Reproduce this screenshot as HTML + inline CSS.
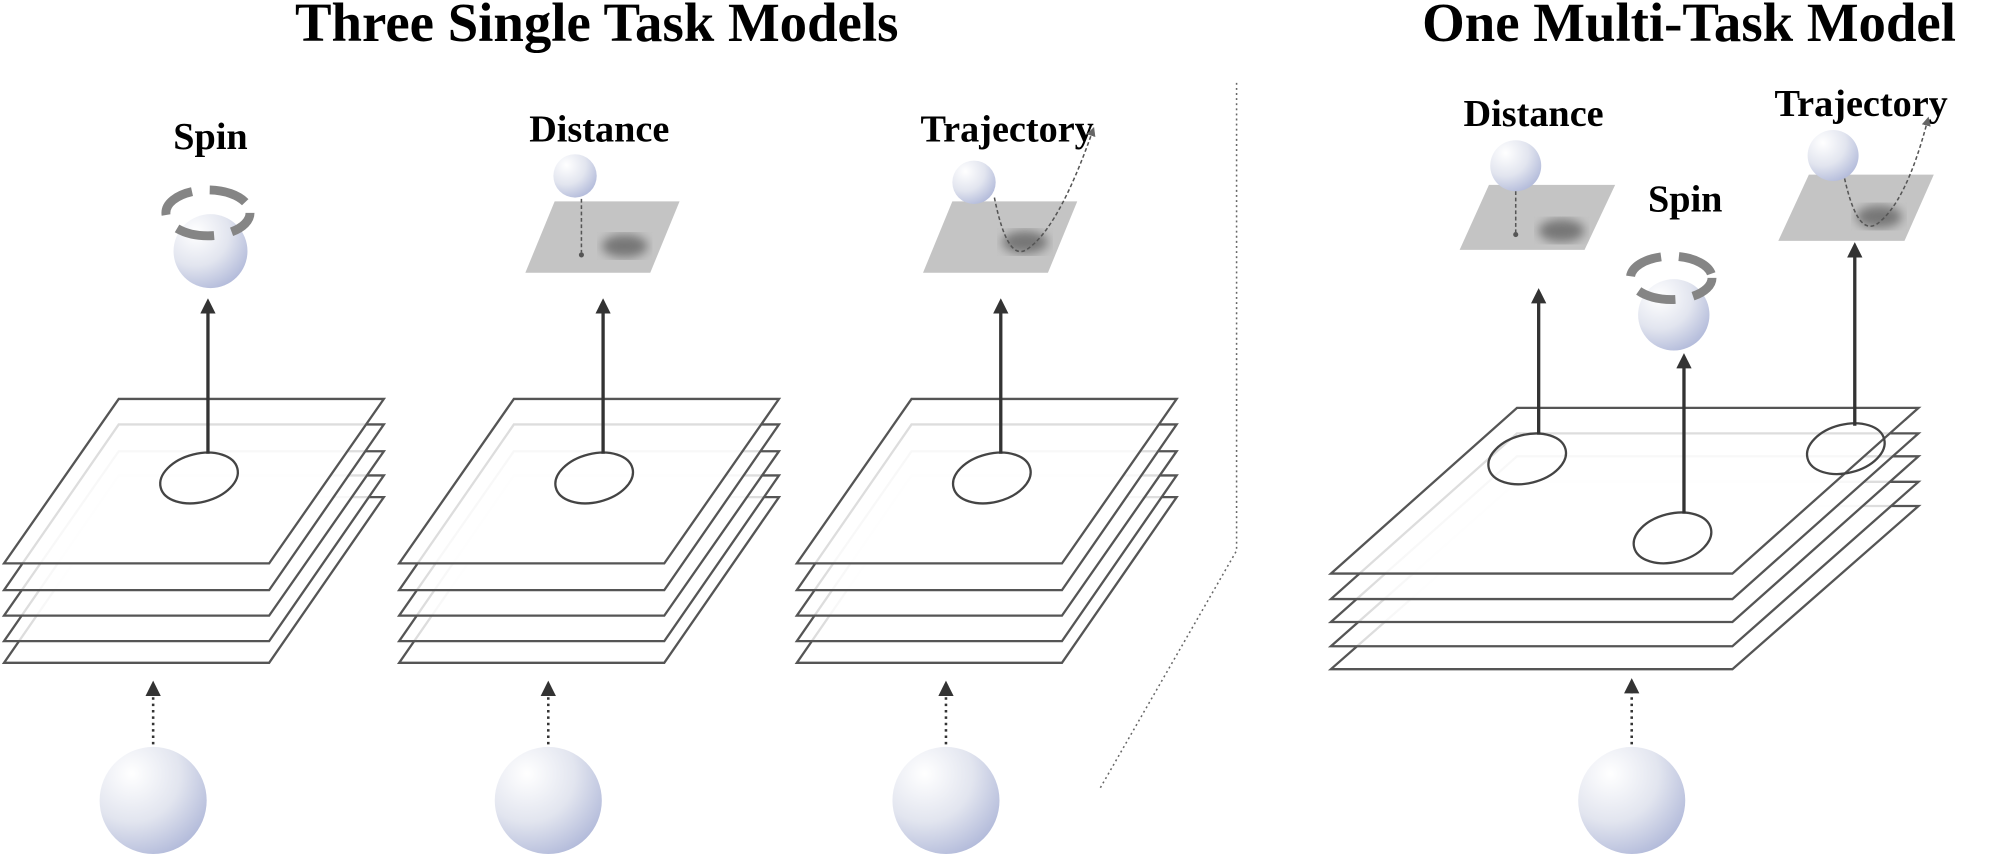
<!DOCTYPE html>
<html><head><meta charset="utf-8"><style>html,body{margin:0;padding:0;background:#fff}svg{display:block}</style></head>
<body>
<svg width="1999" height="854" viewBox="0 0 1568 670" xmlns="http://www.w3.org/2000/svg" font-family="Liberation Serif, serif">
<defs>
<radialGradient id="bg" cx="0.3" cy="0.25" r="0.9">
<stop offset="0" stop-color="#ffffff"/><stop offset="0.5" stop-color="#e2e5ef"/><stop offset="1" stop-color="#a9b2d6"/>
</radialGradient>
<filter id="bl"><feGaussianBlur stdDeviation="4"/></filter>
<marker id="ah" markerWidth="12" markerHeight="12" refX="6" refY="6" orient="auto" markerUnits="userSpaceOnUse" viewBox="0 0 12 12"><path d="M0,0 L12,6 L0,12z" fill="#333"/></marker>
<marker id="ahs" markerWidth="6" markerHeight="6" refX="3" refY="3" orient="auto" viewBox="0 0 6 6"><path d="M0,0 L6,3 L0,6z" fill="#666"/></marker>
<g id="stack">
<g fill="#fff" fill-opacity="0.8" stroke="#555" stroke-width="1.8">
<path d="M93,390 L301,390 L211,520 L3,520Z"/>
<path d="M93,373 L301,373 L211,503 L3,503Z"/>
<path d="M93,354 L301,354 L211,483 L3,483Z"/>
<path d="M93,333 L301,333 L211,463 L3,463Z"/>
<path d="M93,313 L301,313 L211,442 L3,442Z"/>
</g>
<ellipse cx="156" cy="375" rx="31" ry="19" transform="rotate(-14 156 375)" fill="none" stroke="#444" stroke-width="1.8"/>
<line x1="163" y1="356" x2="163" y2="240" stroke="#333" stroke-width="2.6" marker-end="url(#ah)"/>
<line x1="120" y1="584" x2="120" y2="540" stroke="#333" stroke-width="2" stroke-dasharray="2 3" marker-end="url(#ah)"/>
<circle cx="120" cy="628" r="42" fill="url(#bg)"/>
</g>
<g id="bigstack">
<g fill="#fff" fill-opacity="0.8" stroke="#555" stroke-width="1.8">
<path d="M1190,397 L1505,397 L1359,525 L1044,525Z"/>
<path d="M1190,378 L1505,378 L1359,507 L1044,507Z"/>
<path d="M1190,358 L1505,358 L1359,488 L1044,488Z"/>
<path d="M1190,340 L1505,340 L1359,470 L1044,470Z"/>
<path d="M1190,320 L1505,320 L1359,450 L1044,450Z"/>
</g>
</g>
</defs>

<text x="468" y="32" font-size="43" font-weight="bold" text-anchor="middle">Three Single Task Models</text>
<text x="1325" y="32" font-size="43" font-weight="bold" text-anchor="middle">One Multi-Task Model</text>

<use href="#stack"/>
<use href="#stack" x="310"/>
<use href="#stack" x="622"/>

<text x="165" y="117" font-size="30" font-weight="bold" text-anchor="middle">Spin</text>
<circle cx="165" cy="197" r="29" fill="url(#bg)"/>
<ellipse cx="163" cy="167" rx="33" ry="18" fill="none" stroke="#858585" stroke-width="7" stroke-dasharray="30 14" stroke-dashoffset="8"/>

<text x="470" y="111" font-size="30" font-weight="bold" text-anchor="middle">Distance</text>
<path d="M435,158 L533,158 L510,214 L412,214Z" fill="#c4c4c4"/>
<ellipse cx="490" cy="193" rx="18" ry="9" fill="#777" filter="url(#bl)"/>
<circle cx="451" cy="138" r="17" fill="url(#bg)"/>
<line x1="456" y1="156" x2="456" y2="198" stroke="#555" stroke-width="1.2" stroke-dasharray="3 2"/>
<circle cx="456" cy="200" r="2" fill="#555"/>

<text x="790" y="111" font-size="30" font-weight="bold" text-anchor="middle">Trajectory</text>
<path d="M747,158 L845,158 L822,214 L724,214Z" fill="#c4c4c4"/>
<ellipse cx="804" cy="190" rx="18" ry="9" fill="#777" filter="url(#bl)"/>
<circle cx="764" cy="143" r="17" fill="url(#bg)"/>
<path d="M780,155 Q790,205 805,196 Q830,180 857,103" fill="none" stroke="#555" stroke-width="1.2" stroke-dasharray="3 2" marker-end="url(#ahs)"/>

<path d="M970,65 L970,432 L862,620" fill="none" stroke="#666" stroke-width="1.2" stroke-dasharray="1.5 2.5"/>

<use href="#bigstack"/>
<ellipse cx="1198" cy="360" rx="31" ry="19" transform="rotate(-14 1198 360)" fill="none" stroke="#444" stroke-width="1.8"/>
<ellipse cx="1448" cy="352" rx="31" ry="19" transform="rotate(-14 1448 352)" fill="none" stroke="#444" stroke-width="1.8"/>
<ellipse cx="1312" cy="422" rx="31" ry="19" transform="rotate(-14 1312 422)" fill="#fff" stroke="#444" stroke-width="1.8"/>
<line x1="1207" y1="341" x2="1207" y2="232" stroke="#333" stroke-width="2.6" marker-end="url(#ah)"/>
<line x1="1321" y1="403" x2="1321" y2="283" stroke="#333" stroke-width="2.6" marker-end="url(#ah)"/>
<line x1="1455" y1="334" x2="1455" y2="196" stroke="#333" stroke-width="2.6" marker-end="url(#ah)"/>
<line x1="1280" y1="584" x2="1280" y2="538" stroke="#333" stroke-width="2" stroke-dasharray="2 3" marker-end="url(#ah)"/>
<circle cx="1280" cy="628" r="42" fill="url(#bg)"/>

<text x="1203" y="99" font-size="30" font-weight="bold" text-anchor="middle">Distance</text>
<path d="M1168,145 L1267,145 L1243,196 L1145,196Z" fill="#c4c4c4"/>
<ellipse cx="1225" cy="181" rx="18" ry="9" fill="#777" filter="url(#bl)"/>
<circle cx="1189" cy="130" r="20" fill="url(#bg)"/>
<line x1="1189" y1="150" x2="1189" y2="182" stroke="#555" stroke-width="1.2" stroke-dasharray="3 2"/>
<circle cx="1189" cy="184" r="2" fill="#555"/>

<text x="1322" y="166" font-size="30" font-weight="bold" text-anchor="middle">Spin</text>
<circle cx="1313" cy="247" r="28" fill="url(#bg)"/>
<ellipse cx="1311" cy="218" rx="32" ry="17" fill="none" stroke="#858585" stroke-width="7" stroke-dasharray="30 14" stroke-dashoffset="8"/>

<text x="1460" y="91" font-size="30" font-weight="bold" text-anchor="middle">Trajectory</text>
<path d="M1419,137 L1517,137 L1494,189 L1395,189Z" fill="#c4c4c4"/>
<ellipse cx="1474" cy="170" rx="18" ry="9" fill="#777" filter="url(#bl)"/>
<circle cx="1438" cy="122" r="20" fill="url(#bg)"/>
<path d="M1447,140 Q1457,185 1472,176 Q1495,160 1512,95" fill="none" stroke="#555" stroke-width="1.2" stroke-dasharray="3 2" marker-end="url(#ahs)"/>
</svg>
</body></html>
